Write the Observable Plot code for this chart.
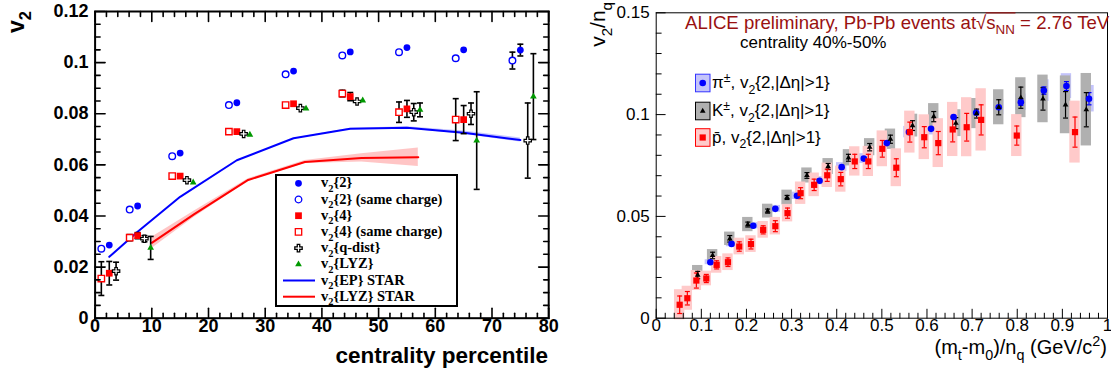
<!DOCTYPE html>
<html><head><meta charset="utf-8">
<script src="https://cdn.jsdelivr.net/npm/d3@7"></script>
<script src="https://cdn.jsdelivr.net/npm/@observablehq/plot@0.6"></script>
<style>
html,body{margin:0;padding:0;background:#fff;}
#wrap{position:relative;width:1111px;height:376px;overflow:hidden;background:#fff;}
#left{position:absolute;left:0;top:0;}
#right{position:absolute;left:560px;top:0;}
</style></head>
<body><div id="wrap"><div id="left"></div><div id="right"></div></div>
<script>
// ---------------- LEFT PANEL DATA (centrality percentile vs v2) ----------------
const v2_2X   = [2.5, 7.5, 15, 25, 35, 45, 55, 65, 75];
const v2_2Y   = [0.0286, 0.0439, 0.0646, 0.0843, 0.0967, 0.1042, 0.1059, 0.1050, 0.1049];
const v2_2E   = [0, 0, 0, 0, 0, 0.0005, 0.0005, 0.0005, 0.0023];

const v2_2scX = [1.1, 6.1, 13.6, 23.6, 33.6, 43.6, 53.6, 63.6, 73.6];
const v2_2scY = [0.0272, 0.0425, 0.0634, 0.0834, 0.0954, 0.1028, 0.1041, 0.1017, 0.1008];
const v2_2scE = [0, 0, 0, 0, 0, 0.0005, 0.0005, 0.0006, 0.0033];

const v2_4X   = [2.5, 7.5, 15, 25, 35, 45, 55, 65];
const v2_4Y   = [0.0176, 0.0323, 0.0556, 0.0730, 0.0839, 0.0867, 0.0819, 0.0777];
const v2_4E   = [0.0046, 0.0012, 0.0006, 0.0006, 0.0008, 0.0016, 0.0033, 0.0055];

const v2_4scX = [1.1, 6.1, 13.6, 23.6, 33.6, 43.6, 53.6, 63.6];
const v2_4scY = [0.0155, 0.0315, 0.0556, 0.0730, 0.0834, 0.0879, 0.0806, 0.0777];
const v2_4scE = [0.0066, 0.0012, 0.0006, 0.0006, 0.0007, 0.0013, 0.0040, 0.0082];

const v2qX    = [3.7, 8.7, 16.2, 26.2, 36.2, 46.2, 56.2, 66.3, 76.3];
const v2qY    = [0.0184, 0.0311, 0.0540, 0.0721, 0.0822, 0.0848, 0.0806, 0.0800, 0.0695];
const v2qE    = [0.0035, 0.0012, 0.0006, 0.0006, 0.0006, 0.0008, 0.0034, 0.0042, 0.0147];

const v2lyzX  = [9.8, 17.3, 27.3, 37.2, 47.2, 57.3, 67.3, 77.3];
const v2lyzY  = [0.0275, 0.0531, 0.0718, 0.0820, 0.0852, 0.0815, 0.0695, 0.0867];
const v2lyzE  = [0.0045, 0.0006, 0.0006, 0.0006, 0.0006, 0.0027, 0.0191, 0.0168];

const starEPX = [2.5, 7.5, 15, 25, 35, 45, 55, 65, 75];
const starEPY = [0.0240, 0.0338, 0.0475, 0.0618, 0.0704, 0.0741, 0.0745, 0.0726, 0.0697];
const starEPE = [0, 0, 0, 0, 0, 0.0002, 0.0004, 0.0006, 0.0008];

const starLYZX = [10, 17.5, 27, 37, 47, 57];
const starLYZY = [0.0295, 0.0407, 0.0541, 0.0611, 0.0627, 0.0630];
const starLYZE = [0.0022, 0.0012, 0.0005, 0.0006, 0.0016, 0.0036];

const leftXTicks = [0, 10, 20, 30, 40, 50, 60, 70, 80];
const leftXTickLabels = ["0", "10", "20", "30", "40", "50", "60", "70", "80"];
const leftYTicks = [0, 0.02, 0.04, 0.06, 0.08, 0.1, 0.12];
const leftYTickLabels = ["0", "0.02", "0.04", "0.06", "0.08", "0.1", "0.12"];
const leftLegend = ["{2}", "{2} (same charge)", "{4}", "{4} (same charge)", "{q-dist}", "{LYZ}", "{EP} STAR", "{LYZ} STAR"];

// ---------------- RIGHT PANEL DATA ((mt-m0)/nq vs v2/nq) ----------------
const pionX    = [0.120, 0.167, 0.215, 0.264, 0.312, 0.362, 0.411, 0.460, 0.511, 0.560, 0.609, 0.659, 0.709, 0.759, 0.808, 0.859, 0.909, 0.959];
const pionY    = [0.0275, 0.0365, 0.0454, 0.0537, 0.0601, 0.0675, 0.0742, 0.0784, 0.0860, 0.0914, 0.0930, 0.0988, 0.1009, 0.1036, 0.1061, 0.1118, 0.1140, 0.1078];
const pionStat = [0.0008, 0.0008, 0.0008, 0.0008, 0.0008, 0.0008, 0.0009, 0.0009, 0.0010, 0.0010, 0.0011, 0.0012, 0.0013, 0.0014, 0.0016, 0.0018, 0.0022, 0.0030];
const pionSys  = [0.0012, 0.0014, 0.0015, 0.0017, 0.0018, 0.0020, 0.0022, 0.0024, 0.0026, 0.0028, 0.0030, 0.0032, 0.0034, 0.0037, 0.0040, 0.0053, 0.0061, 0.0065];

const kaonX    = [0.092, 0.125, 0.163, 0.203, 0.247, 0.290, 0.334, 0.381, 0.426, 0.473, 0.519, 0.568, 0.615, 0.664, 0.710, 0.759, 0.808, 0.857, 0.907, 0.953];
const kaonY    = [0.0212, 0.0308, 0.0390, 0.0460, 0.0526, 0.0593, 0.0701, 0.0745, 0.0788, 0.0840, 0.0879, 0.0946, 0.0990, 0.0958, 0.1005, 0.1036, 0.1083, 0.1077, 0.1048, 0.1024];
const kaonStat = [0.0018, 0.0016, 0.0016, 0.0012, 0.0010, 0.0010, 0.0014, 0.0015, 0.0017, 0.0018, 0.0020, 0.0024, 0.0025, 0.0027, 0.0022, 0.0037, 0.0052, 0.0055, 0.0065, 0.0084];
const kaonSys  = [0.0047, 0.0029, 0.0033, 0.0035, 0.0034, 0.0036, 0.0037, 0.0039, 0.0040, 0.0042, 0.0050, 0.0056, 0.0064, 0.0066, 0.0074, 0.0086, 0.0098, 0.0117, 0.0142, 0.0178];

const pbarX    = [0.052, 0.069, 0.089, 0.111, 0.134, 0.159, 0.184, 0.210, 0.237, 0.264, 0.291, 0.320, 0.350, 0.379, 0.409, 0.440, 0.470, 0.501, 0.532, 0.562, 0.594, 0.625, 0.657, 0.688, 0.720, 0.799, 0.928];
const pbarY    = [0.0066, 0.0098, 0.0185, 0.0195, 0.0262, 0.0275, 0.0352, 0.0364, 0.0434, 0.0452, 0.0516, 0.0614, 0.0655, 0.0702, 0.0683, 0.0770, 0.0770, 0.0832, 0.0739, 0.0914, 0.0889, 0.0860, 0.0927, 0.0938, 0.0974, 0.0897, 0.0914];
const pbarStat = [0.0043, 0.0033, 0.0037, 0.0020, 0.0020, 0.0021, 0.0023, 0.0024, 0.0020, 0.0027, 0.0025, 0.0027, 0.0028, 0.0030, 0.0033, 0.0035, 0.0035, 0.0041, 0.0044, 0.0049, 0.0052, 0.0057, 0.0061, 0.0068, 0.0074, 0.0047, 0.0074];
const pbarSys  = [0.0074, 0.0059, 0.0049, 0.0036, 0.0041, 0.0041, 0.0041, 0.0041, 0.0041, 0.0043, 0.0043, 0.0055, 0.0058, 0.0060, 0.0064, 0.0072, 0.0074, 0.0088, 0.0093, 0.0103, 0.0110, 0.0120, 0.0133, 0.0145, 0.0153, 0.0103, 0.0152];

const rightXTicks = [0, 0.1, 0.2, 0.3, 0.4, 0.5, 0.6, 0.7, 0.8, 0.9, 1];
const rightXTickLabels = ["0", "0.1", "0.2", "0.3", "0.4", "0.5", "0.6", "0.7", "0.8", "0.9", "1"];
const rightYTicks = [0, 0.05, 0.1, 0.15];
const rightYTickLabels = ["0", "0.05", "0.1", "0.15"];

// ---------------- helpers ----------------
const mk = (xs, ys, es, ss) => xs.map((x, i) => ({x, y: ys[i], e: es ? es[i] : 0, s: ss ? ss[i] : 0}));
const capSym = {draw(ctx, size) { const w = Math.sqrt(size / Math.PI); ctx.moveTo(-w, 0); ctx.lineTo(w, 0); }};
const tickShape = {draw(ctx, l) { ctx.moveTo(0, 0); ctx.lineTo(0, -l); }};
const near = (arr, v) => arr.some(a => Math.abs(a - v) < 1e-9);

function errMarks(data, color, capR, sw, thr) {
  const d = data.filter(p => p.e >= thr);
  return [
    Plot.ruleX(d, {x: "x", y1: p => p.y - p.e, y2: p => p.y + p.e, stroke: color, strokeWidth: sw}),
    Plot.dot(d, {x: "x", y: p => p.y - p.e, symbol: capSym, r: capR, stroke: color, strokeWidth: sw, fill: "none"}),
    Plot.dot(d, {x: "x", y: p => p.y + p.e, symbol: capSym, r: capR, stroke: color, strokeWidth: sw, fill: "none"})
  ];
}
function tickMarks(xMaj, xMin, yMaj, yMin, maj, min, sw, mirror) {
  const o = {anchor: "start", shape: tickShape, stroke: "black", strokeWidth: sw};
  const m = [
    Plot.vector(xMaj, {...o, x: d => d, frameAnchor: "bottom", length: maj, rotate: 0}),
    Plot.vector(xMin, {...o, x: d => d, frameAnchor: "bottom", length: min, rotate: 0}),
    Plot.vector(yMaj, {...o, y: d => d, frameAnchor: "left", length: maj, rotate: 90}),
    Plot.vector(yMin, {...o, y: d => d, frameAnchor: "left", length: min, rotate: 90})
  ];
  if (mirror) m.push(
    Plot.vector(xMaj, {...o, x: d => d, frameAnchor: "top", length: maj, rotate: 180}),
    Plot.vector(xMin, {...o, x: d => d, frameAnchor: "top", length: min, rotate: 180}),
    Plot.vector(yMaj, {...o, y: d => d, frameAnchor: "right", length: maj, rotate: -90}),
    Plot.vector(yMin, {...o, y: d => d, frameAnchor: "right", length: min, rotate: -90})
  );
  return m;
}
function richText(g, x, y, parts, {size, family, weight = "normal", fill = "black", anchor = "start", rotate = 0}) {
  const t = g.append("text").attr("font-family", family).attr("font-size", size).attr("font-weight", weight)
    .attr("fill", fill).attr("text-anchor", anchor).attr("transform", `translate(${x},${y}) rotate(${rotate})`);
  let cur = 0;
  for (const p of parts) {
    const [s, mode] = typeof p === "string" ? [p, ""] : p;
    const target = mode === "sub" ? size * 0.32 : mode === "sup" ? -size * 0.4 : 0;
    t.append("tspan").attr("dy", target - cur).attr("font-size", mode ? size * 0.72 : size).text(s);
    cur = target;
  }
  return t;
}
const SANS = "'Liberation Sans', Arial, Helvetica, sans-serif";
const SERIF = "'Liberation Serif', 'Times New Roman', serif";

// ---------------- LEFT PLOT ----------------
const s2 = mk(v2_2X, v2_2Y, v2_2E), s2sc = mk(v2_2scX, v2_2scY, v2_2scE);
const s4 = mk(v2_4X, v2_4Y, v2_4E), s4sc = mk(v2_4scX, v2_4scY, v2_4scE);
const sq = mk(v2qX, v2qY, v2qE), slyz = mk(v2lyzX, v2lyzY, v2lyzE);
const sEP = mk(starEPX, starEPY, starEPE), sLYZ = mk(starLYZX, starLYZY, starLYZE);

const BLUE = "#0000ff", RED = "#ff0000", GREEN = "#009900";
const lxMinor = d3.range(0, 80.001, 2).filter(v => !near(leftXTicks, v));
const lyMinor = d3.range(0, 0.12001, 0.005).filter(v => !near(leftYTicks, v));

const left = Plot.plot({
  width: 560, height: 376,
  marginLeft: 94.6, marginRight: 11.8, marginTop: 11, marginBottom: 58.3,
  x: {domain: [0, 80], axis: null},
  y: {domain: [0, 0.12], axis: null},
  style: {fontFamily: SANS, background: "white", overflow: "visible"},
  marks: [
    Plot.areaY(sLYZ, {x: "x", y1: d => d.y - d.e, y2: d => d.y + d.e, fill: "#ff8c8c", fillOpacity: 0.5}),
    Plot.areaY(sEP, {x: "x", y1: d => d.y - d.e, y2: d => d.y + d.e, fill: "#8c8cff", fillOpacity: 0.5}),
    Plot.line(sEP, {x: "x", y: "y", stroke: BLUE, strokeWidth: 2}),
    Plot.line(sLYZ, {x: "x", y: "y", stroke: RED, strokeWidth: 2}),
    ...errMarks(s2, "black", 3, 1.6, 0.001),
    ...errMarks(s2sc, "black", 3, 1.6, 0.001),
    ...errMarks(s4, "black", 3, 1.6, 0.001),
    ...errMarks(s4sc, "black", 3, 1.6, 0.001),
    ...errMarks(sq, "black", 3, 1.6, 0.001),
    ...errMarks(slyz, "black", 3, 1.6, 0.001),
    Plot.dot(s2sc, {x: "x", y: "y", symbol: "circle", r: 3.3, fill: "white", stroke: BLUE, strokeWidth: 1.4}),
    Plot.dot(s2, {x: "x", y: "y", symbol: "circle", r: 3.4, fill: BLUE}),
    Plot.dot(s4sc, {x: "x", y: "y", symbol: "square", r: 3.6, fill: "white", stroke: RED, strokeWidth: 1.4}),
    Plot.dot(s4, {x: "x", y: "y", symbol: "square", r: 3.8, fill: RED}),
    Plot.dot(sq, {x: "x", y: "y", symbol: "cross", r: 3.1, fill: "white", stroke: "black", strokeWidth: 1.2}),
    Plot.dot(slyz, {x: "x", y: "y", symbol: "triangle", r: 2.5, fill: GREEN}),
    Plot.frame({stroke: "black", strokeWidth: 2}),
    ...tickMarks(leftXTicks, lxMinor, leftYTicks, lyMinor, 10, 5, 1.6, true),
    Plot.text(leftXTicks, {x: leftXTicks, text: leftXTickLabels, frameAnchor: "bottom", dy: 14, fontSize: 18, fontWeight: "bold", fill: "black"}),
    Plot.text(leftYTicks, {y: leftYTicks, text: leftYTickLabels, frameAnchor: "left", dx: -6.5, textAnchor: "end", fontSize: 18, fontWeight: "bold", fill: "black"})
  ]
});
document.getElementById("left").appendChild(left);

{
  const svg = d3.select(left);
  const g = svg.append("g");
  // axis titles
  richText(g, 548, 362.5, ["centrality percentile"], {size: 22.5, family: SANS, weight: "bold", anchor: "end"});
  richText(g, 24, 11, ["v", ["2", "sub"]], {size: 23, family: SANS, weight: "bold", anchor: "end", rotate: -90});
  // legend
  g.append("rect").attr("x", 276).attr("y", 175).attr("width", 181).attr("height", 131)
    .attr("fill", "white").attr("stroke", "black").attr("stroke-width", 2);
  const rows = leftLegend.map((t, i) => ({t, cy: 183.3 + i * 16.2}));
  const sx = 298.5;
  const sym = (type, r) => d3.symbol(type, Math.PI * r * r)();
  const glyphs = [
    {d: sym(d3.symbolCircle, 3.4), fill: BLUE},
    {d: sym(d3.symbolCircle, 3.3), fill: "white", stroke: BLUE},
    {d: sym(d3.symbolSquare, 3.8), fill: RED},
    {d: sym(d3.symbolSquare, 3.6), fill: "white", stroke: RED},
    {d: sym(d3.symbolCross, 3.1), fill: "white", stroke: "black"},
    {d: sym(d3.symbolTriangle, 2.5), fill: GREEN}
  ];
  rows.forEach((r, i) => {
    if (i < 6) {
      const gl = glyphs[i];
      g.append("path").attr("d", gl.d).attr("transform", `translate(${sx},${r.cy})`)
        .attr("fill", gl.fill).attr("stroke", gl.stroke || "none").attr("stroke-width", gl.stroke ? 1.3 : 0);
    } else {
      g.append("line").attr("x1", 283).attr("x2", 315).attr("y1", r.cy).attr("y2", r.cy)
        .attr("stroke", i === 6 ? BLUE : RED).attr("stroke-width", 2);
    }
    richText(g, 321, r.cy + 4, ["v", ["2", "sub"], r.t], {size: 14.5, family: SERIF, weight: "bold"});
  });
}

// ---------------- RIGHT PLOT ----------------
const pi = mk(pionX, pionY, pionStat, pionSys);
const ka = mk(kaonX, kaonY, kaonStat, kaonSys);
const pb = mk(pbarX, pbarY, pbarStat, pbarSys);
const BW = 0.0115;
const rxMinor = d3.range(0, 1.0001, 0.02).filter(v => !near(rightXTicks, v));
const ryMinor = d3.range(0, 0.15001, 0.01).filter(v => !near(rightYTicks, v));
const PION_BOX = "#c4c4fa", KAON_BOX = "#b0b0b0", PBAR_BOX = "#ffcaca";

const right = Plot.plot({
  width: 551, height: 376,
  marginLeft: 95.7, marginRight: 4, marginTop: 12.3, marginBottom: 58.3,
  x: {domain: [0, 1], axis: null},
  y: {domain: [0, 0.15], axis: null},
  style: {fontFamily: SANS, background: "white", overflow: "visible"},
  marks: [
    Plot.rect(pi, {x1: d => d.x - BW, x2: d => d.x + BW, y1: d => d.y - d.s, y2: d => d.y + d.s, fill: PION_BOX}),
    Plot.rect(ka, {x1: d => d.x - BW, x2: d => d.x + BW, y1: d => d.y - d.s, y2: d => d.y + d.s, fill: KAON_BOX}),
    Plot.rect(pb, {x1: d => d.x - BW, x2: d => d.x + BW, y1: d => d.y - d.s, y2: d => d.y + d.s, fill: PBAR_BOX}),
    ...errMarks(pi, BLUE, 2.5, 1.2, 0.0015),
    ...errMarks(ka, "black", 2.5, 1.2, 0.0009),
    ...errMarks(pb, RED, 2.5, 1.2, 0.0015),
    Plot.dot(pi, {x: "x", y: "y", symbol: "circle", r: 3.3, fill: BLUE}),
    Plot.dot(ka, {x: "x", y: "y", symbol: "triangle", r: 2.1, fill: "black"}),
    Plot.dot(pb, {x: "x", y: "y", symbol: "square", r: 3.5, fill: RED}),
    Plot.frame({stroke: "black", strokeWidth: 1}),
    ...tickMarks(rightXTicks, rxMinor, rightYTicks, ryMinor, 9, 5, 1, false),
    Plot.text(rightXTicks, {x: rightXTicks, text: rightXTickLabels, frameAnchor: "bottom", dy: 13, fontSize: 17, fill: "black"}),
    Plot.text(rightYTicks, {y: rightYTicks, text: rightYTickLabels, frameAnchor: "left", dx: -6.5, textAnchor: "end", fontSize: 17, fill: "black"})
  ]
});
document.getElementById("right").appendChild(right);

{
  const svg = d3.select(right);
  const g = svg.append("g");
  richText(g, 547, 353.5, ["(m", ["t", "sub"], "-m", ["0", "sub"], ")/n", ["q", "sub"], " (GeV/c", ["2", "sup"], ")"], {size: 20, family: SANS, anchor: "end"});
  richText(g, 45, 2, ["v", ["2", "sub"], "/n", ["q", "sub"]], {size: 21, family: SANS, anchor: "end", rotate: -90});
  // title
  const TITLE = "#991111";
  const TS = 18.6, TY = 28.5;
  const pre = "ALICE preliminary, Pb-Pb events at";
  const tt = richText(g, 125, TY, [pre, "\u221A", "s", ["NN", "sub"], " = 2.76 TeV"], {size: TS, family: SANS, fill: TITLE});
  try {
    const n = tt.node();
    const e0 = n.getExtentOfChar(pre.length);
    const e1 = n.getExtentOfChar(pre.length + 3);
    g.append("line").attr("x1", 125 + e0.x + e0.width - 0.6).attr("x2", 125 + e1.x + e1.width + 0.5)
      .attr("y1", TY - 0.84 * TS).attr("y2", TY - 0.84 * TS).attr("stroke", TITLE).attr("stroke-width", 1.2);
  } catch (err) {}
  richText(g, 180, 47.8, ["centrality 40%-50%"], {size: 17, family: SANS});
  // legend
  const leg = [
    {cy: 83, fill: PION_BOX, stroke: "#3333ff", sym: d3.symbolCircle, r: 3.3, c: BLUE, label: ["\u03C0", ["\u00B1", "sup"], ", v", ["2", "sub"], "{2,|\u0394\u03B7|>1}"]},
    {cy: 111, fill: KAON_BOX, stroke: "black", sym: d3.symbolTriangle, r: 2.1, c: "black", label: ["K", ["\u00B1", "sup"], ", v", ["2", "sub"], "{2,|\u0394\u03B7|>1}"]},
    {cy: 137.5, fill: PBAR_BOX, stroke: RED, sym: d3.symbolSquare, r: 3.5, c: RED, label: ["p\u0304, v", ["2", "sub"], "{2,|\u0394\u03B7|>1}"]}
  ];
  leg.forEach(l => {
    g.append("rect").attr("x", 135.5).attr("y", l.cy - 8.8).attr("width", 14.5).attr("height", 17.6)
      .attr("fill", l.fill).attr("stroke", l.stroke).attr("stroke-width", 1);
    g.append("path").attr("d", d3.symbol(l.sym, Math.PI * l.r * l.r)()).attr("transform", `translate(142.7,${l.cy})`).attr("fill", l.c);
    richText(g, 152, l.cy + 5.3, l.label, {size: 17, family: SANS});
  });
}
</script>
</body></html>
